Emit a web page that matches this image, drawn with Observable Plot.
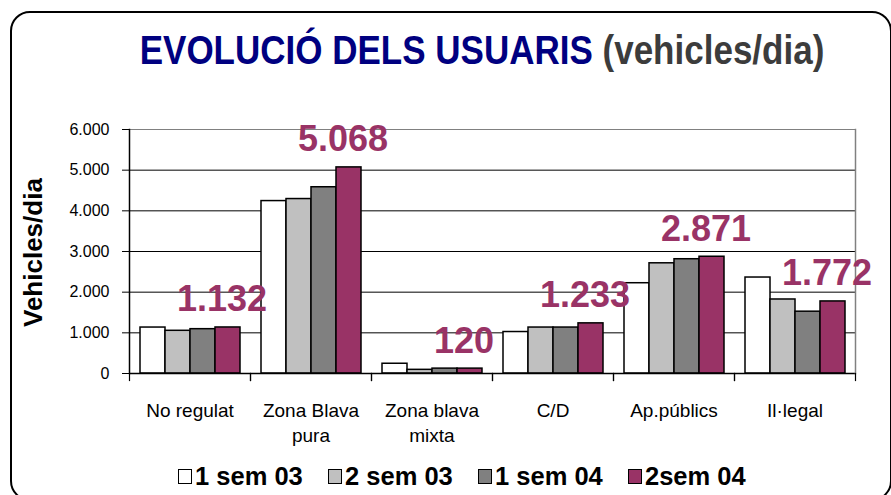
<!DOCTYPE html>
<html><head><meta charset="utf-8">
<script src="https://cdn.jsdelivr.net/npm/d3@7"></script>
<script src="https://cdn.jsdelivr.net/npm/@observablehq/plot@0.6"></script>
<style>
body{margin:0;background:#fff;font-family:"Liberation Sans",Arial,sans-serif;}
#wrap{position:relative;width:891px;height:495px;overflow:hidden;background:#fff;}
#border{position:absolute;left:10px;top:11px;width:882px;height:490px;border:2px solid #000;border-radius:20px;box-sizing:border-box;}
#title{position:absolute;left:74px;top:31px;width:816px;text-align:center;font-weight:bold;font-size:35px;line-height:40px;white-space:nowrap;}
#title .in{display:inline-block;transform:scaleY(1.15);transform-origin:50% 60%;}
#title .a{color:#000080;}
#title .b{color:#3c3c3c;}
#chart{position:absolute;left:0;top:95px;}
#ylab{position:absolute;left:18px;top:327px;width:0;height:0;}
#ylab span{position:absolute;left:0;top:0;transform-origin:0 0;transform:rotate(-90deg);font-weight:bold;font-size:26px;line-height:30px;white-space:nowrap;color:#000;}
#legend{position:absolute;left:178px;top:461px;display:flex;}
.item{display:flex;align-items:center;width:150px;font-weight:bold;font-size:25.5px;line-height:30px;white-space:nowrap;color:#000;}
.sw{width:14px;height:15px;border:1.5px solid #000;box-sizing:border-box;margin-right:3px;}
</style></head>
<body>
<div id="wrap">
  <div id="title"><span class="in"><span class="a">EVOLUCIÓ DELS USUARIS</span> <span class="b">(vehicles/dia)</span></span></div>
  <div id="ylab"><span>Vehicles/dia</span></div>
  <div id="chart"></div>
  <div id="legend"></div>
  <div id="border"></div>
</div>
<script>
const categories = ["No regulat", "Zona Blava pura", "Zona blava mixta", "C/D", "Ap.públics", "Il·legal"];
const tickLabels = ["No regulat", "Zona Blava\npura", "Zona blava\nmixta", "C/D", "Ap.públics", "Il·legal"];
const series = ["1 sem 03", "2 sem 03", "1 sem 04", "2sem 04"];
const colors = ["#ffffff", "#c0c0c0", "#808080", "#993366"];
const sem1_03 = [1130, 4240, 240, 1020, 2220, 2360];
const sem2_03 = [1050, 4290, 90, 1130, 2710, 1820];
const sem1_04 = [1090, 4580, 120, 1130, 2810, 1520];
const sem2_04 = [1132, 5068, 120, 1233, 2871, 1772];
const yTicks = [0, 1000, 2000, 3000, 4000, 5000, 6000];
const gridTicks = [1000, 2000, 3000, 4000, 5000];

const values = [sem1_03, sem2_03, sem1_04, sem2_04];
const fmt = d3.formatLocale({decimal: ",", thousands: ".", grouping: [3], currency: ["", ""]}).format(",d");
const data = [];
categories.forEach((c, i) => series.forEach((s, j) => data.push({category: c, series: s, value: values[j][i]})));

const chart = Plot.plot({
  width: 891, height: 355,
  marginLeft: 128, marginRight: 35, marginTop: 34, marginBottom: 77,
  style: {fontFamily: "'Liberation Sans', Arial, sans-serif", fontSize: "16px", color: "#000", background: "transparent"},
  fx: {domain: categories, padding: 0, label: null},
  x: {domain: series, paddingInner: 0, paddingOuter: 0.37, axis: null},
  y: {domain: [0, 6000]},
  color: {domain: series, range: colors},
  marks: [
    Plot.ruleY(gridTicks, {stroke: "#000", strokeWidth: 1}),
    Plot.ruleY([6000], {stroke: "#808080", strokeWidth: 1}),
    Plot.barY(data, {fx: "category", x: "series", y: "value", fill: "series", stroke: "#000", strokeWidth: 1.5}),
    Plot.ruleY([0], {stroke: "#000", strokeWidth: 1.5}),
    Plot.frame({anchor: "left", stroke: "#000", strokeWidth: 1.5, facetAnchor: "left"}),
    Plot.frame({anchor: "right", stroke: "#808080", strokeWidth: 1.5, facetAnchor: "right"}),
    Plot.frame({anchor: "left", insetTop: 244, insetBottom: -7, stroke: "#000", strokeWidth: 1.2}),
    Plot.frame({anchor: "right", insetTop: 244, insetBottom: -7, stroke: "#000", strokeWidth: 1.2}),
    Plot.axisY({ticks: yTicks, tickFormat: fmt, tickSize: 7, tickPadding: 13, fontSize: 16, label: null, facetAnchor: "left"}),
    Plot.axisFx({anchor: "bottom", tickSize: 0, tickPadding: 26, fontSize: 19, lineHeight: 1.32, label: null,
      tickFormat: d => tickLabels[categories.indexOf(d)]}),
    Plot.text(data.filter(d => d.series === series[3]), {fx: "category", x: "series", y: "value",
      text: d => fmt(d.value), lineAnchor: "bottom", dy: -16, dx: -6, fontSize: 36, fontWeight: "bold", fill: "#993366"})
  ]
});
document.getElementById("chart").appendChild(chart);

const legend = document.getElementById("legend");
series.forEach((s, i) => {
  const it = document.createElement("div");
  it.className = "item";
  const sw = document.createElement("div");
  sw.className = "sw";
  sw.style.background = colors[i];
  const t = document.createElement("span");
  t.textContent = s;
  it.appendChild(sw); it.appendChild(t);
  legend.appendChild(it);
});
</script>
</body></html>
